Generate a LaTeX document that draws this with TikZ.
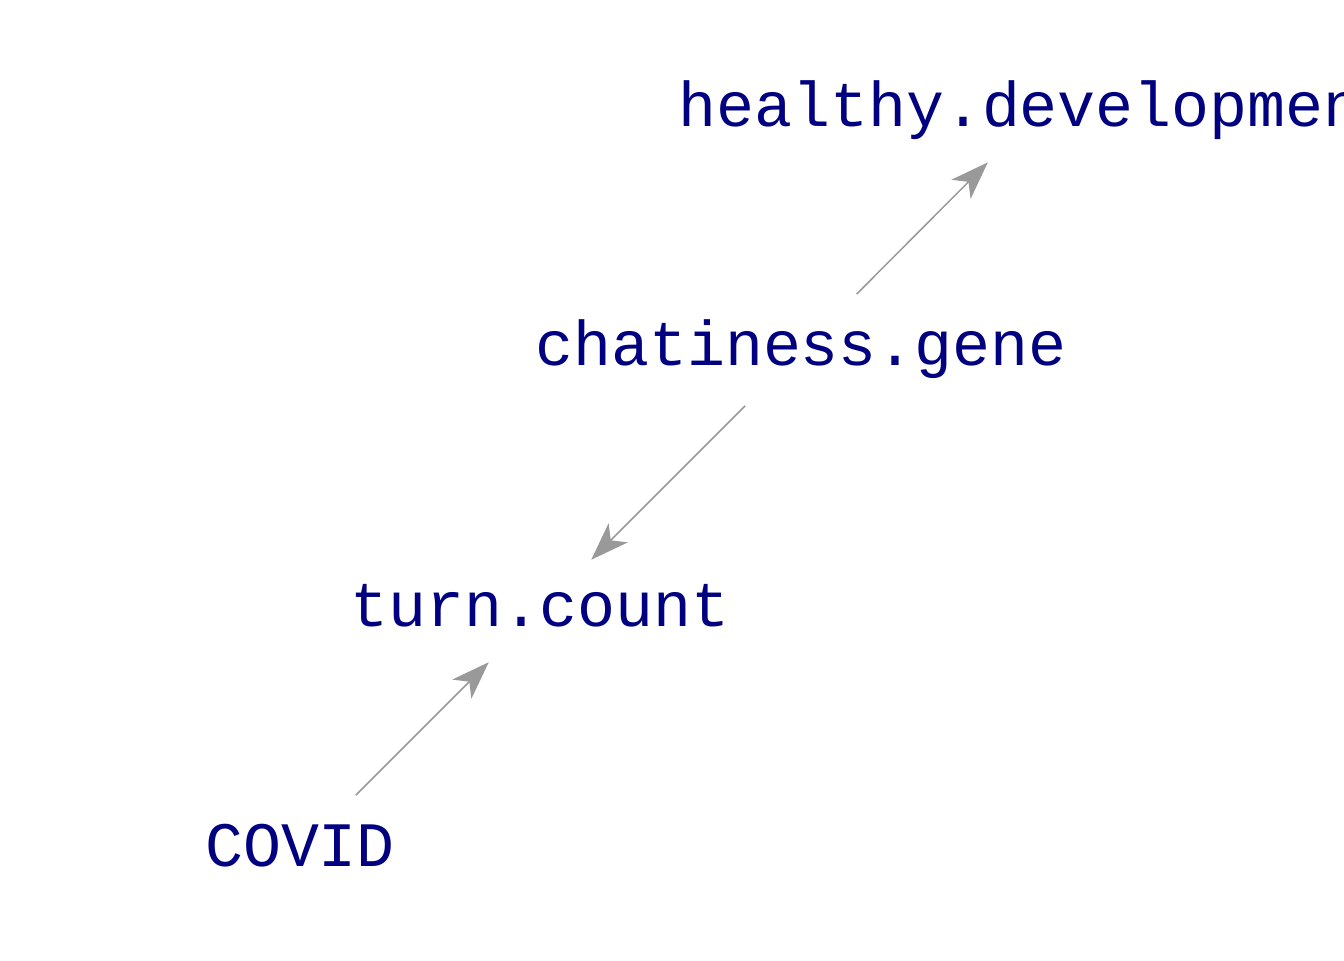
\documentclass[tikz,border=0pt]{standalone}
\usepackage{fontspec}
\setmonofont{Liberation Mono}
\usepackage{tikz}
\usetikzlibrary{arrows.meta}
\definecolor{dagtext}{HTML}{000080}
\definecolor{dagedge}{HTML}{999999}
\begin{document}
\begin{tikzpicture}[
  var/.style={inner sep=0pt,text height=0.64cm,text depth=0pt,text=dagtext,
    font=\ttfamily\fontsize{36}{40}\selectfont},
  edge/.style={draw=dagedge,line width=0.85pt,shorten <=1.58cm,shorten >=1.45cm,
    -{Stealth[length=7.6mm,width=5.4mm,inset=2.1mm]}}]
\useasboundingbox (0,0) rectangle (26.88,19.2);
\clip (0,0) rectangle (26.88,19.2);
\node[var] (covid) at (6.0,2.18) {COVID};
\node[var] (turn) at (10.8,6.98) {turn.count};
\node[var] (gene) at (16.02,12.2) {chatiness.gene};
\node[var] (health) at (20.78,16.98) {healthy.development};
\draw[edge] (covid.center) -- (turn.center);
\draw[edge] (gene.center) -- (turn.center);
\draw[edge] (gene.center) -- (health.center);
\end{tikzpicture}
\end{document}
